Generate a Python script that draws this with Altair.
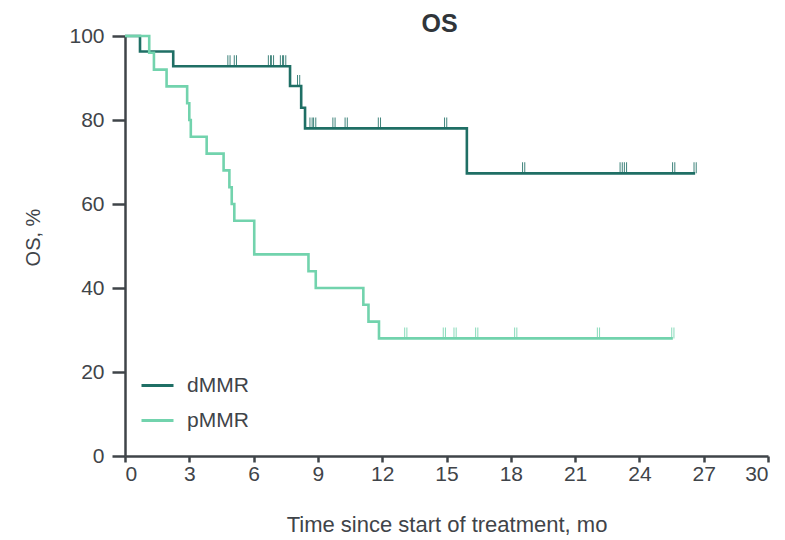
import altair as alt
import pandas as pd

# ---- data ----
d_times = [0, 0.7, 2.25, 7.7, 8.22, 8.4, 15.95, 26.6]
d_surv = [100, 96.3, 92.8, 88.1, 82.9, 78.0, 67.3, 67.3]
d_cens_t = [4.85, 5.15, 6.74, 6.88, 7.3, 7.45, 8.1, 8.68, 8.85, 9.75, 10.32, 11.87, 14.96,
            18.6, 23.15, 23.35, 25.6, 26.6]
d_cens_s = [92.8, 92.8, 92.8, 92.8, 92.8, 92.8, 88.1, 78.0, 78.0, 78.0, 78.0, 78.0, 78.0,
            67.3, 67.3, 67.3, 67.3, 67.3]

p_times = [0, 1.13, 1.35, 1.94, 2.9, 3.0, 3.07, 3.81, 4.6, 4.87, 4.98, 5.1, 6.03, 8.56,
           8.9, 11.12, 11.36, 11.85, 25.56]
p_surv = [100, 96, 92, 88, 84, 80, 76, 72, 68, 64, 60, 56, 48, 44, 40, 36, 32, 28, 28]
p_cens_t = [13.1, 14.9, 15.4, 16.41, 18.23, 22.09, 25.56]
p_cens_s = [28, 28, 28, 28, 28, 28, 28]

groups = ["dMMR", "pMMR"]
colors = ["#1f6f65", "#72d3ad"]
x_ticks = list(range(0, 31, 3))
y_ticks = list(range(0, 101, 20))

lines = pd.concat([
    pd.DataFrame({"t": d_times, "s": d_surv, "g": "dMMR"}),
    pd.DataFrame({"t": p_times, "s": p_surv, "g": "pMMR"}),
])
cens = pd.concat([
    pd.DataFrame({"t": d_cens_t, "s": d_cens_s, "g": "dMMR"}),
    pd.DataFrame({"t": p_cens_t, "s": p_cens_s, "g": "pMMR"}),
])

FONT = "Liberation Sans, Arial, sans-serif"
AX = "#3f4449"

xs = alt.Scale(domain=[0, 30], nice=False)
ys = alt.Scale(domain=[0, 100], nice=False)
cs = alt.Scale(domain=groups, range=colors)

base_line = alt.Chart(lines).mark_line(interpolate="step-after", strokeWidth=2.6).encode(
    x=alt.X("t:Q", scale=xs, axis=alt.Axis(values=x_ticks, title="Time since start of treatment, mo",
                                           tickSize=6, labelPadding=1, titlePadding=30,
                                           labelFontSize=21, titleFontSize=22)),
    y=alt.Y("s:Q", scale=ys, axis=alt.Axis(values=y_ticks, title="OS, %", tickSize=13,
                                           labelPadding=8, titleX=-82, titleY=201,
                                           labelFontSize=21, titleFontSize=20)),
    color=alt.Color("g:N", scale=cs, sort=groups,
                    legend=alt.Legend(title=None, orient="none", legendX=15, legendY=332,
                                      symbolType="stroke", symbolSize=1024, symbolStrokeWidth=3,
                                      labelFontSize=21, labelFont=FONT, labelColor=AX,
                                      rowPadding=7, labelOffset=12)),
)

tick_layers = []
for off in (-1.1, 1.1):
    tick_layers.append(
        alt.Chart(cens).mark_tick(orient="vertical", size=11, thickness=1, yOffset=-5.5,
                                  xOffset=off, opacity=0.85).encode(
            x=alt.X("t:Q", scale=xs),
            y=alt.Y("s:Q", scale=ys),
            color=alt.Color("g:N", scale=cs, legend=None),
        )
    )

chart = alt.layer(base_line, *tick_layers).properties(
    width=643, height=420,
    title=alt.TitleParams("OS", fontSize=25, fontWeight="bold", font="Liberation Sans",
                          color="#30353a", dx=-7, offset=-12),
    autosize=alt.AutoSizeParams(type="none"),
    padding={"left": 125, "top": 36, "right": 17, "bottom": 84},
).configure_view(stroke=None).configure_axis(
    grid=False, domainColor=AX, domainWidth=2.5, tickColor=AX, tickWidth=2.5,
    labelColor=AX, labelFont=FONT, titleFont=FONT,
    titleColor=AX, titleFontWeight="normal",
)

chart.save("out.html", embed_options={"renderer": "svg", "actions": False})
